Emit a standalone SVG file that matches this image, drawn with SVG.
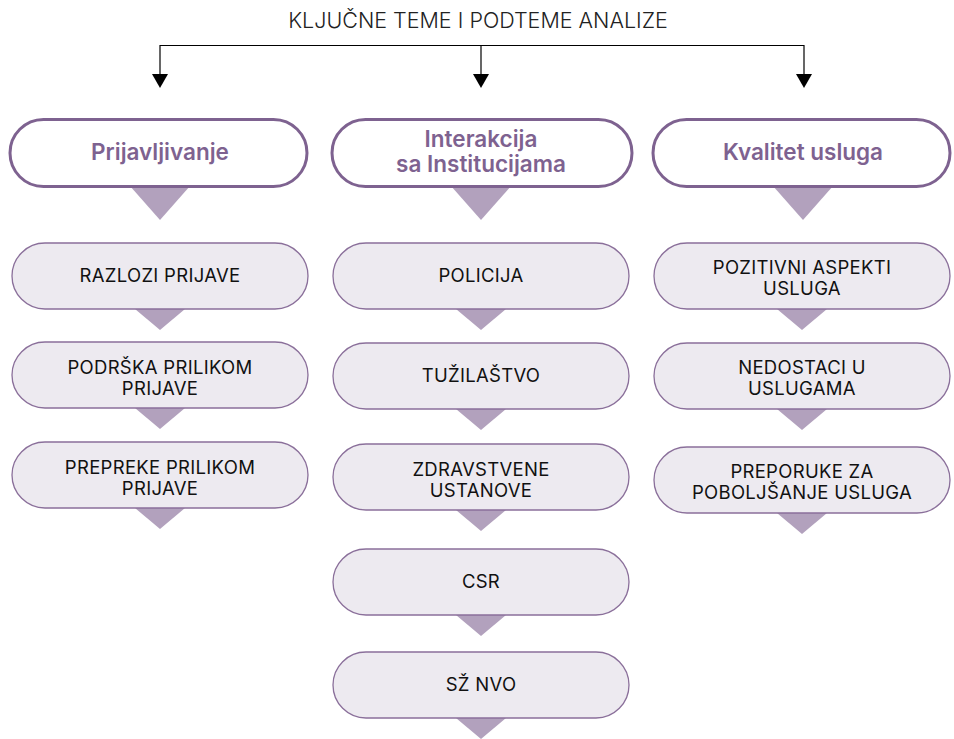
<svg xmlns="http://www.w3.org/2000/svg" width="954" height="739" viewBox="0 0 954 739">
<defs>
<style>
.title{font-family:Inter,"Liberation Sans",sans-serif;font-size:21.5px;font-weight:300;fill:#222;text-anchor:middle}
.hbox{fill:#fff;stroke:#7E6290;stroke-width:3}
.htxt{font-family:Inter,"Liberation Sans",sans-serif;font-size:22.5px;font-weight:600;fill:#7E6290;text-anchor:middle}
.sbox{fill:#EDEAF0;stroke:#8A6F9A;stroke-width:1.3}
.stxt{font-family:Inter,"Liberation Sans",sans-serif;font-size:18.5px;font-weight:400;fill:#111;text-anchor:middle;letter-spacing:0.3px}
.tri{fill:#B2A1BD}
.line{stroke:#000;stroke-width:1.2;fill:none}
.ah{fill:#000}
</style>
</defs>
<text class="title" x="478" y="28">KLJUČNE TEME I PODTEME ANALIZE</text>
<g id="connectors">
<path class="line" d="M160,45.5 H804" stroke="#555"/>
<line class="line" x1="160" y1="45" x2="160" y2="75"/>
<line class="line" x1="481" y1="45" x2="481" y2="75"/>
<line class="line" x1="804" y1="45" x2="804" y2="75"/>
<polygon class="ah" points="152,74 168,74 160,88"/>
<polygon class="ah" points="473,74 489,74 481,88"/>
<polygon class="ah" points="796,74 812,74 804,88"/>
<polygon class="tri" points="130,186 190,186 160,220"/>
<polygon class="tri" points="451,186 511,186 481,220"/>
<polygon class="tri" points="773,186 833,186 803,220"/>
<polygon class="tri" points="135,309 185,309 160,330"/>
<polygon class="tri" points="135,408 185,408 160,429"/>
<polygon class="tri" points="135,508 185,508 160,529"/>
<polygon class="tri" points="456,309 506,309 481,330"/>
<polygon class="tri" points="456,409 506,409 481,430"/>
<polygon class="tri" points="456,510 506,510 481,531"/>
<polygon class="tri" points="456,615 506,615 481,636"/>
<polygon class="tri" points="456,718 506,718 481,739"/>
<polygon class="tri" points="777,309 827,309 802,330"/>
<polygon class="tri" points="777,409 827,409 802,430"/>
<polygon class="tri" points="777,513 827,513 802,534"/>
</g>
<g id="h1"><rect class="hbox" x="10" y="119.5" width="297" height="67" rx="33.5"/><text class="htxt" x="160" y="160">Prijavljivanje</text></g>
<g id="h2"><rect class="hbox" x="332" y="119.5" width="300" height="67" rx="33.5"/><text class="htxt" x="481" y="147">Interakcija</text><text class="htxt" x="481" y="172">sa Institucijama</text></g>
<g id="h3"><rect class="hbox" x="653" y="119.5" width="297" height="67" rx="33.5"/><text class="htxt" x="803" y="160">Kvalitet usluga</text></g>

<g id="l1"><rect class="sbox" x="12" y="243" width="296" height="66" rx="33"/><text class="stxt" x="160" y="282">RAZLOZI PRIJAVE</text></g>
<g id="l2"><rect class="sbox" x="12" y="342" width="296" height="66" rx="33"/><text class="stxt" x="160" y="374">PODRŠKA PRILIKOM</text><text class="stxt" x="160" y="395">PRIJAVE</text></g>
<g id="l3"><rect class="sbox" x="12" y="442" width="296" height="66" rx="33"/><text class="stxt" x="160" y="474">PREPREKE PRILIKOM</text><text class="stxt" x="160" y="495">PRIJAVE</text></g>

<g id="m1"><rect class="sbox" x="333" y="243" width="296" height="66" rx="33"/><text class="stxt" x="481" y="282">POLICIJA</text></g>
<g id="m2"><rect class="sbox" x="333" y="343" width="296" height="66" rx="33"/><text class="stxt" x="481" y="382">TUŽILAŠTVO</text></g>
<g id="m3"><rect class="sbox" x="333" y="444" width="296" height="66" rx="33"/><text class="stxt" x="481" y="476">ZDRAVSTVENE</text><text class="stxt" x="481" y="497">USTANOVE</text></g>
<g id="m4"><rect class="sbox" x="333" y="549" width="296" height="66" rx="33"/><text class="stxt" x="481" y="588">CSR</text></g>
<g id="m5"><rect class="sbox" x="333" y="652" width="296" height="66" rx="33"/><text class="stxt" x="481" y="691">SŽ NVO</text></g>

<g id="r1"><rect class="sbox" x="654" y="243" width="296" height="66" rx="33"/><text class="stxt" x="802" y="274">POZITIVNI ASPEKTI</text><text class="stxt" x="802" y="295">USLUGA</text></g>
<g id="r2"><rect class="sbox" x="654" y="343" width="296" height="66" rx="33"/><text class="stxt" x="802" y="374">NEDOSTACI U</text><text class="stxt" x="802" y="395">USLUGAMA</text></g>
<g id="r3"><rect class="sbox" x="654" y="447" width="296" height="66" rx="33"/><text class="stxt" x="802" y="478">PREPORUKE ZA</text><text class="stxt" x="802" y="499">POBOLJŠANJE USLUGA</text></g>
</svg>
